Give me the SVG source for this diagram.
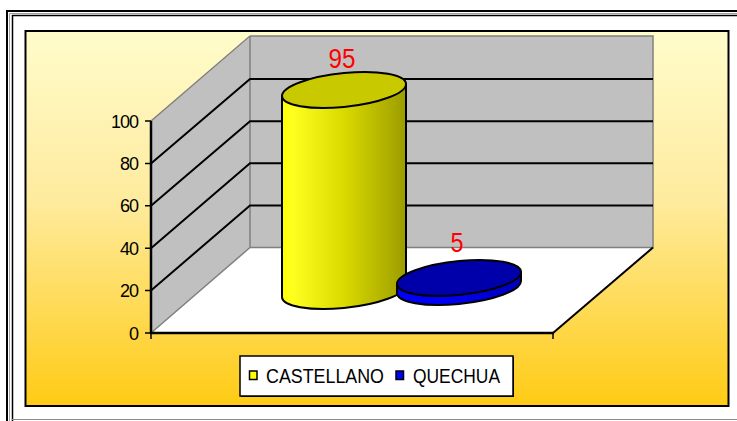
<svg xmlns="http://www.w3.org/2000/svg" width="737" height="421" viewBox="0 0 737 421">
<defs>
<linearGradient id="bg" x1="0" y1="0" x2="0" y2="1">
<stop offset="0" stop-color="#FFFCCB"/>
<stop offset="0.45" stop-color="#FEEB9E"/>
<stop offset="1" stop-color="#FFCB14"/>
</linearGradient>
<linearGradient id="ybody" x1="0" y1="0" x2="1" y2="0">
<stop offset="0" stop-color="#FFFF00"/>
<stop offset="0.08" stop-color="#FFFF20"/>
<stop offset="0.5" stop-color="#DADA00"/>
<stop offset="1" stop-color="#9C9C00"/>
</linearGradient>
<linearGradient id="bbody" x1="0" y1="0" x2="1" y2="0">
<stop offset="0" stop-color="#0000FF"/>
<stop offset="0.5" stop-color="#0000EE"/>
<stop offset="1" stop-color="#0000B8"/>
</linearGradient>
<style>
.grid{stroke:#000;stroke-width:2;fill:none}
.wall{fill:#C0C0C0}
.edge{stroke:#808080;stroke-width:1.5;fill:none}
.axis{stroke:#000;stroke-width:2.5;fill:none}
.tick{stroke:#000;stroke-width:1.5;fill:none}
.lbl{font-family:"Liberation Sans",Arial,sans-serif;font-size:18px;fill:#000;text-anchor:end;letter-spacing:-1px}
.val{font-family:"Liberation Sans",Arial,sans-serif;font-size:28px;fill:#FF0000;text-anchor:middle}
.leg{font-family:"Liberation Sans",Arial,sans-serif;font-size:19.5px;fill:#000}
.outl{stroke:#000;stroke-width:2;stroke-linejoin:round}
</style>
</defs>

<g id="frame">
<path d="M7,421 V11 H737" fill="none" stroke="#000" stroke-width="2"/>
<path d="M9.5,421 V13.5 H737" fill="none" stroke="#A0A0A0" stroke-width="1"/>
<path d="M12.5,421 V15.5 H737" fill="none" stroke="#000" stroke-width="1.5"/>
<line x1="12" y1="419.5" x2="737" y2="419.5" stroke="#8A8A8A" stroke-width="1"/>
<rect x="25.5" y="31" width="703" height="375" fill="url(#bg)" stroke="#000" stroke-width="2"/>
</g>

<g id="plot-walls">
<polygon class="wall" points="151,121 250,37 250,247.5 151,333"/>
<rect class="wall" x="250" y="36" width="403" height="211.5"/>
<polygon points="151,333 250,247.5 653,247.5 553,333" fill="#FFFFFF"/>
<path class="edge" d="M151,121 L250,36 M250,36 V247.5 M250,247.5 L151,333"/>
<path class="edge" d="M250,36 H653 V247.5 H250"/>
</g>

<g id="gridlines">
<path class="grid" d="M151,290.6 L250,205.4 H653 M151,248.2 L250,163.3 H653 M151,205.8 L250,121.2 H653 M151,163.4 L250,79.1 H653"/>
</g>

<g id="axes">
<line class="axis" x1="151" y1="121" x2="151" y2="334"/>
<line class="axis" x1="150" y1="333" x2="554" y2="333"/>
<line class="grid" x1="553" y1="333" x2="653" y2="247.5"/>
<path class="tick" d="M145,121 H151 M145,163.4 H151 M145,205.8 H151 M145,248.2 H151 M145,290.6 H151 M145,333 H151 M151,333 V339 M553,333 V339"/>
<text class="lbl" x="138" y="127.5">100</text>
<text class="lbl" x="138" y="169.9">80</text>
<text class="lbl" x="138" y="212.3">60</text>
<text class="lbl" x="138" y="254.7">40</text>
<text class="lbl" x="138" y="297.1">20</text>
<text class="lbl" x="138" y="339.5">0</text>
</g>

<g id="bar-castellano">
<g transform="translate(344,0) skewY(-5.5)">
<path class="outl" d="M-62,90 V291 A62,17 0 0 0 62,291 V90 Z" fill="url(#ybody)"/>
<ellipse class="outl" cx="0" cy="90" rx="62" ry="17" fill="#C9C900"/>
</g>
<text class="val" x="342" y="68" textLength="27" lengthAdjust="spacingAndGlyphs">95</text>
</g>

<g id="bar-quechua">
<g transform="translate(459,0) skewY(-5.5)">
<path class="outl" d="M-62,278 V287 A62,17 0 0 0 62,287 V278 Z" fill="url(#bbody)"/>
<ellipse class="outl" cx="0" cy="278" rx="62" ry="17" fill="#0000AA"/>
</g>
<text class="val" x="457" y="252" textLength="13" lengthAdjust="spacingAndGlyphs">5</text>
</g>

<g id="legend">
<rect x="241" y="357" width="273" height="40" fill="#000"/>
<rect x="240" y="356" width="273" height="40" fill="#FFFFFF" stroke="#000" stroke-width="1.5"/>
<rect x="249.5" y="371" width="7.5" height="8.5" fill="#FFFF00" stroke="#000" stroke-width="1.5"/>
<text class="leg" x="266" y="382.5" textLength="118" lengthAdjust="spacingAndGlyphs">CASTELLANO</text>
<rect x="396" y="371" width="7.5" height="8.5" fill="#0000FF" stroke="#000" stroke-width="1.5"/>
<text class="leg" x="413" y="382.5" textLength="87" lengthAdjust="spacingAndGlyphs">QUECHUA</text>
</g>
</svg>
